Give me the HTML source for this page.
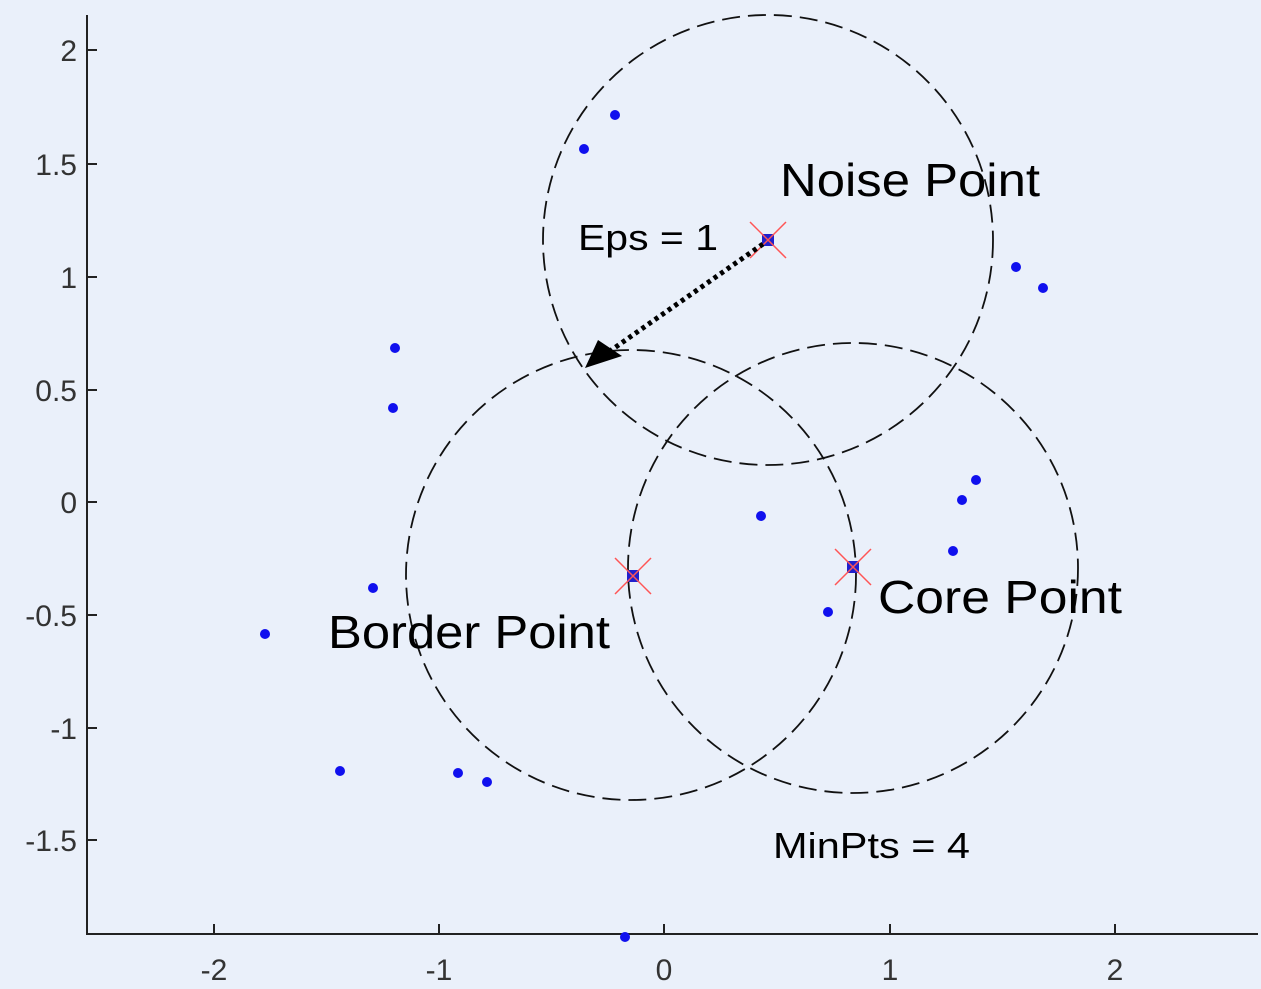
<!DOCTYPE html>
<html><head><style>html,body{margin:0;padding:0;background:#eaf0fa;}svg{display:block}</style></head>
<body>
<svg width="1261" height="989" viewBox="0 0 1261 989" xmlns="http://www.w3.org/2000/svg" font-family="Liberation Sans, sans-serif">
<rect width="1261" height="989" fill="#eaf0fa"/>
<g stroke="#222" stroke-width="2" fill="none">
<line x1="87" y1="15" x2="87" y2="935"/>
<line x1="86" y1="934" x2="1258" y2="934"/>
<line x1="87" y1="50" x2="97" y2="50"/><line x1="87" y1="164" x2="97" y2="164"/><line x1="87" y1="277" x2="97" y2="277"/><line x1="87" y1="390" x2="97" y2="390"/><line x1="87" y1="502" x2="97" y2="502"/><line x1="87" y1="615" x2="97" y2="615"/><line x1="87" y1="728" x2="97" y2="728"/><line x1="87" y1="840" x2="97" y2="840"/>
<line x1="214" y1="934" x2="214" y2="924"/><line x1="439" y1="934" x2="439" y2="924"/><line x1="664" y1="934" x2="664" y2="924"/><line x1="890" y1="934" x2="890" y2="924"/><line x1="1115" y1="934" x2="1115" y2="924"/>
</g>
<g font-size="30" fill="#333" text-anchor="end">
<text x="77" y="61">2</text><text x="77" y="175">1.5</text><text x="77" y="288">1</text><text x="77" y="401">0.5</text><text x="77" y="513">0</text><text x="77" y="626">-0.5</text><text x="77" y="739">-1</text><text x="77" y="851">-1.5</text>
</g>
<g font-size="30" fill="#333" text-anchor="middle">
<text x="214" y="980">-2</text><text x="439" y="980">-1</text><text x="664" y="980">0</text><text x="890" y="980">1</text><text x="1115" y="980">2</text>
</g>
<g stroke="#111" stroke-width="1.8" fill="none" stroke-dasharray="18 8">
<circle cx="768" cy="240" r="225"/>
<circle cx="631" cy="575" r="225"/>
<circle cx="853" cy="568" r="225"/>
</g>
<g fill="#1010ee">
<circle cx="615" cy="115" r="5"/><circle cx="584" cy="149" r="5"/><circle cx="1016" cy="267" r="5"/><circle cx="1043" cy="288" r="5"/><circle cx="395" cy="348" r="5"/><circle cx="393" cy="408" r="5"/><circle cx="976" cy="480" r="5"/><circle cx="962" cy="500" r="5"/><circle cx="761" cy="516" r="5"/><circle cx="953" cy="551" r="5"/><circle cx="373" cy="588" r="5"/><circle cx="828" cy="612" r="5"/><circle cx="265" cy="634" r="5"/><circle cx="340" cy="771" r="5"/><circle cx="458" cy="773" r="5"/><circle cx="487" cy="782" r="5"/><circle cx="625" cy="937" r="5"/>
</g>
<g>
<rect x="762" y="234" width="12" height="12" fill="#2020cc"/>
<rect x="627" y="570" width="12" height="12" fill="#2020cc"/>
<rect x="847" y="561" width="12" height="12" fill="#2020cc"/>
</g>
<g stroke="#f55" stroke-width="1.5">
<line x1="750" y1="222" x2="786" y2="258"/><line x1="786" y1="222" x2="750" y2="258"/>
<line x1="615" y1="558" x2="651" y2="594"/><line x1="651" y1="558" x2="615" y2="594"/>
<line x1="835" y1="549" x2="871" y2="585"/><line x1="871" y1="549" x2="835" y2="585"/>
</g>
<line x1="763" y1="244" x2="610" y2="351" stroke="#000" stroke-width="5" stroke-dasharray="4 4"/>
<polygon points="585,368 598,340 622,356" fill="#000"/>
<g fill="#000">
<text x="780" y="196" font-size="46" textLength="260" lengthAdjust="spacingAndGlyphs">Noise Point</text>
<text x="578" y="250" font-size="36" textLength="140" lengthAdjust="spacingAndGlyphs">Eps = 1</text>
<text x="878" y="613" font-size="46" textLength="244" lengthAdjust="spacingAndGlyphs">Core Point</text>
<text x="328" y="648" font-size="46" textLength="282" lengthAdjust="spacingAndGlyphs">Border Point</text>
<text x="773" y="858" font-size="36" textLength="197" lengthAdjust="spacingAndGlyphs">MinPts = 4</text>
</g>
</svg>
</body></html>
